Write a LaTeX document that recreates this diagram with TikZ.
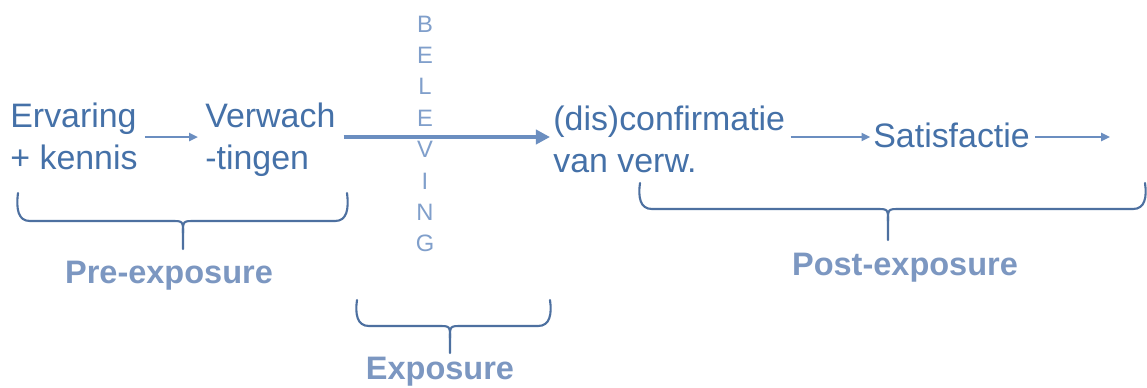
\documentclass[tikz,border=0pt]{standalone}
\usepackage{fontspec}
\setmainfont{Liberation Sans}
\usetikzlibrary{arrows.meta}
\definecolor{txtblue}{HTML}{4571A8}
\definecolor{arrblue}{HTML}{6B8EC0}
\definecolor{letblue}{HTML}{809FCB}
\definecolor{labblue}{HTML}{7C97C1}
\definecolor{brblue}{HTML}{4D70A0}
\begin{document}
\begin{tikzpicture}[x=0.02cm,y=-0.02cm,
  maintext/.style={font=\fontsize{19.3}{23.4}\selectfont, text=txtblue, inner sep=0pt, align=left},
  letter/.style={font=\fontsize{13.5}{13.5}\selectfont, text=letblue, inner sep=0pt},
  lab/.style={font=\fontsize{18.5}{22}\selectfont\bfseries, text=labblue, inner sep=0pt},
  arr/.style={draw=arrblue, line width=1.2pt, -{Triangle[length=5pt,width=4.5pt]}},
  bigarr/.style={draw=arrblue, line width=2.3pt, -{Triangle[length=8pt,width=8pt]}},
  brace/.style={draw=brblue, line width=1.2pt, line cap=round}]
\useasboundingbox (0,0) rectangle (1147,387);
\fill[white] (0,0) rectangle (1147,387);

% text nodes (base anchor = baseline of last line)
\node[maintext, anchor=base west] (erv) at (10,169) {Ervaring\\+ kennis};
\node[maintext, anchor=base west] (verw) at (205,169) {Verwach\\-tingen};
\node[maintext, anchor=base west] (conf) at (553,172) {(dis)confirmatie\\van verw.};
\node[maintext, anchor=base west] (sat) at (873,147) {Satisfactie};
\coordinate (end) at (1110,137);
\coordinate (ay) at (0,137);

% vertical BELEVING
\foreach \c [count=\i from 0] in {B,E,L,E,V,I,N,G} {
  \node[letter] (bel\i) at (425,24+31.4*\i) {\c};
}

% arrows
\draw[arr, shorten <=4pt, shorten >=4pt] (erv.east |- ay) -- (verw.west |- ay);
\draw[bigarr, shorten <=4.5pt, shorten >=1.7pt] (verw.east |- ay) -- (conf.west |- ay);
\draw[arr, shorten <=3pt, shorten >=1.5pt] (conf.east |- ay) -- (sat.west |- ay);
\draw[arr, shorten <=3pt] (sat.east |- ay) -- (end);

% braces
\newcommand{\mybrace}[6]{% x1 x2 ytop yh xm ytip
  \draw[brace] (#1,#3) .. controls (#1-2,#4-12) and (#1,#4) .. (#1+12,#4) -- (#5-12,#4) .. controls (#5,#4) .. (#5,#4+12) -- (#5,#6);
  \draw[brace] (#2,#3) .. controls (#2+2,#4-12) and (#2,#4) .. (#2-12,#4) -- (#5+12,#4) .. controls (#5,#4) .. (#5,#4+12);
}
\mybrace{18}{347}{193}{221}{183}{249}
\mybrace{357}{550}{300}{326}{450}{353}
\mybrace{640}{1145}{183}{209}{888}{240}

% labels
\node[lab] (pre) at (169,276) {Pre-exposure};
\node[lab] (expo) at (440,372) {Exposure};
\node[lab] (post) at (905,268) {Post-exposure};
\end{tikzpicture}
\end{document}
